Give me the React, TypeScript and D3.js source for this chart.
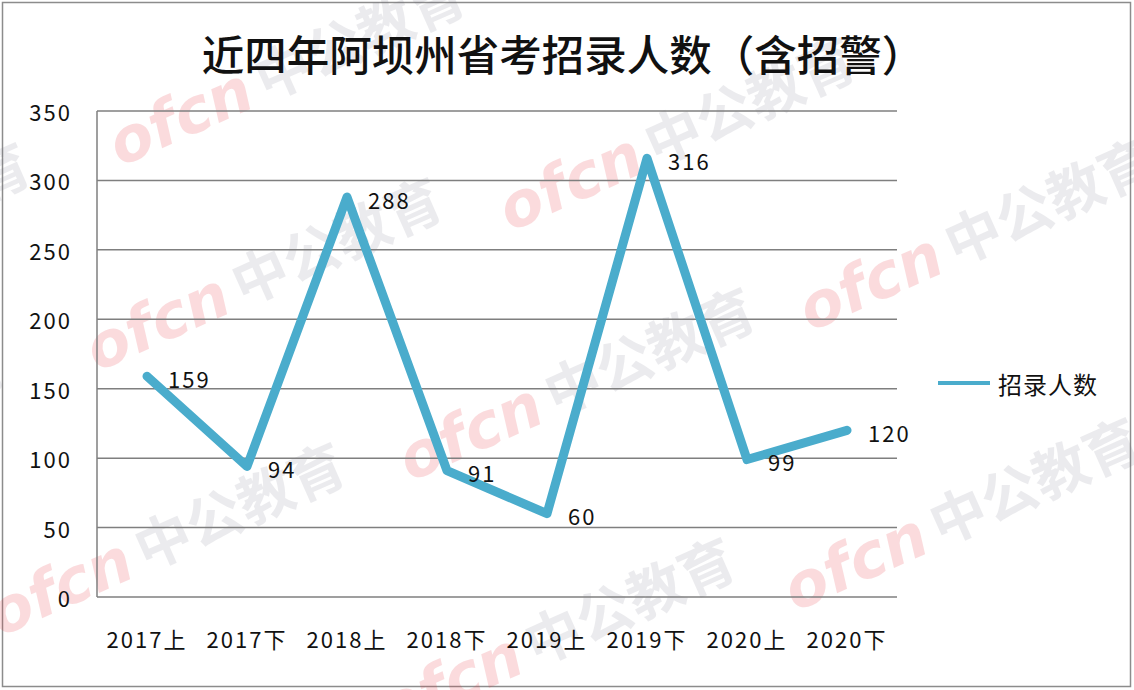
import React from "react";
import * as d3 from "d3";

const categories = ["2017上", "2017下", "2018上", "2018下", "2019上", "2019下", "2020上", "2020下"];
const values = [159, 94, 288, 91, 60, 316, 99, 120];
const yTicks = [0, 50, 100, 150, 200, 250, 300, 350];
const seriesName = "招录人数";
const title = "近四年阿坝州省考招录人数（含招警）";

const watermarks: [number, number][] = [
  [285, 70], [675, 135], [975, 235], [262, 275], [575, 385],
  [165, 540], [960, 515], [555, 635], [-150, 240], [-175, 440], [1250, 690],
];

const W = 1134;
const H = 690;
const left = 97;
const right = 897;
const top = 111;
const bottom = 597;
const FONT = "'Noto Sans CJK SC', 'Noto Sans', sans-serif";

export default function App() {
  const x = d3.scaleBand<string>().domain(categories).range([left, right]);
  const y = d3.scaleLinear().domain([0, 350]).range([bottom, top]);
  const cx = (c: string) => (x(c) as number) + x.bandwidth() / 2;
  const line = d3
    .line<number>()
    .x((_, i) => cx(categories[i]))
    .y((d) => y(d));

  return (
    <svg
      width={W}
      height={H}
      style={{ position: "absolute", left: 0, top: 0, background: "#fff" }}
      fontFamily={FONT}
    >
      <rect x={0} y={0} width={W} height={H} fill="#fff" />
      <rect x={2.5} y={2.5} width={1128} height={684} fill="none" stroke="#8c8c8c" strokeWidth={1.5} />
      <g pointerEvents="none">
        {watermarks.map(([wx, wy], i) => (
          <g key={i} transform={`translate(${wx},${wy}) rotate(-24)`}>
            <text
              x={-190}
              y={0}
              dominantBaseline="central"
              fontSize={62}
              fontStyle="italic"
              fontWeight={700}
              fontFamily="'DejaVu Sans', sans-serif"
              fill="#e8323c"
              opacity={0.17}
            >
              ofcn
            </text>
            <text
              x={-30}
              y={-4}
              dominantBaseline="central"
              fontSize={56}
              fontWeight={700}
              fill="#6c6c80"
              opacity={0.13}
            >
              中公教育
            </text>
          </g>
        ))}
      </g>
      <text x={563} y={52} textAnchor="middle" dominantBaseline="central" fontSize={42.5} fontWeight={500} fill="#111">
        {title}
      </text>
      {yTicks.map((t) => (
        <g key={t}>
          <line x1={left} x2={right} y1={y(t)} y2={y(t)} stroke="#7f7f7f" strokeWidth={1.5} />
          <text x={72} y={y(t)} textAnchor="end" dominantBaseline="central" fontSize={22} letterSpacing={2} fill="#111">
            {t}
          </text>
        </g>
      ))}
      <line x1={left} x2={left} y1={top} y2={bottom} stroke="#7f7f7f" strokeWidth={1.5} />
      {categories.map((c) => (
        <text key={c} x={cx(c)} y={638} textAnchor="middle" dominantBaseline="central" fontSize={22} letterSpacing={2} fill="#111">
          {c}
        </text>
      ))}
      <path
        d={line(values) || ""}
        fill="none"
        stroke="#4aaccc"
        strokeWidth={9}
        strokeLinejoin="round"
        strokeLinecap="round"
      />
      {values.map((v, i) => (
        <text
          key={i}
          x={cx(categories[i]) + 21}
          y={y(v) + 1.5}
          dominantBaseline="central"
          fontSize={22}
          letterSpacing={2}
          fill="#111"
        >
          {v}
        </text>
      ))}
      <line x1={938} x2={990} y1={383} y2={383} stroke="#4aaccc" strokeWidth={4} />
      <text x={998} y={383} dominantBaseline="central" fontSize={24} letterSpacing={1} fill="#111">
        {seriesName}
      </text>
    </svg>
  );
}
